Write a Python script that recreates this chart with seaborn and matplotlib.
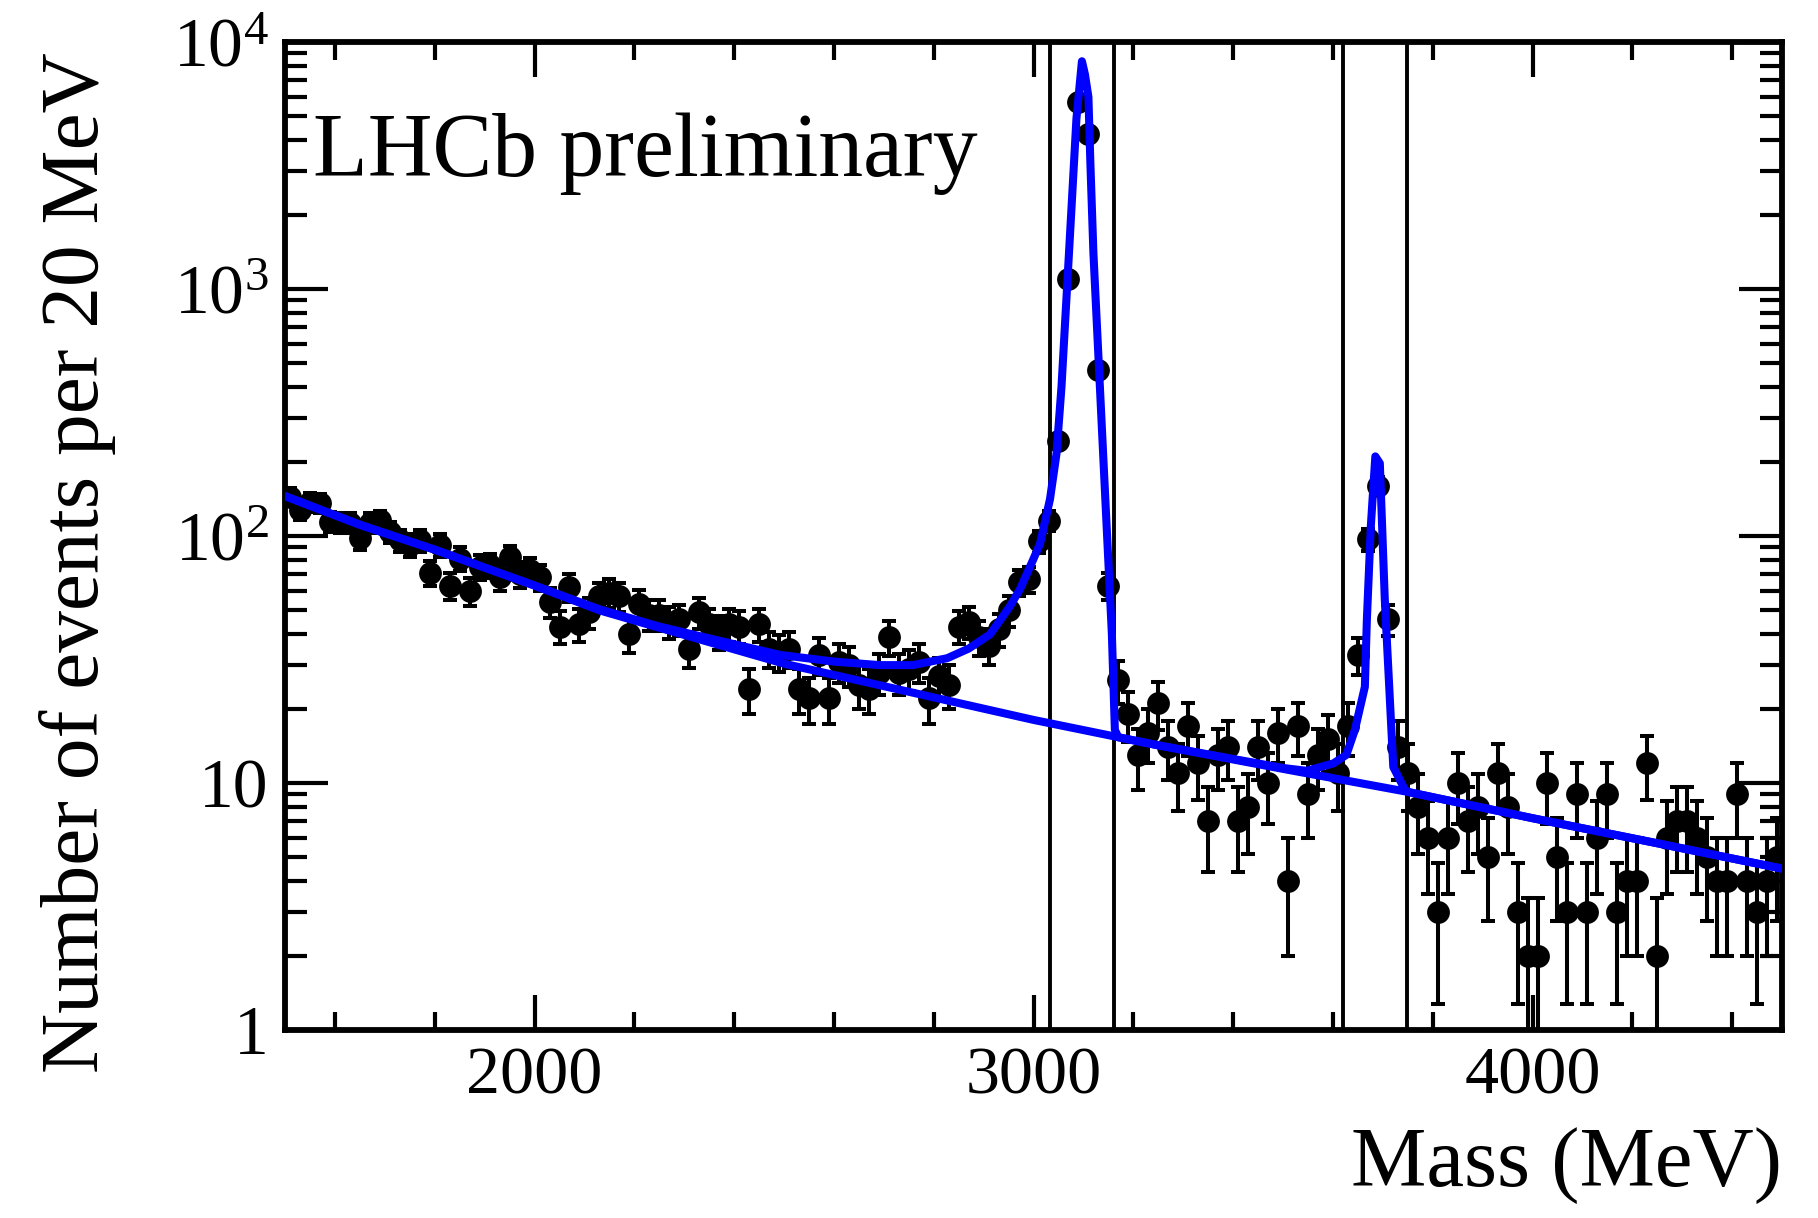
import numpy as np
import matplotlib
matplotlib.use("Agg")
import matplotlib.pyplot as plt
import seaborn as sns
from matplotlib.ticker import FixedLocator, FixedFormatter, MultipleLocator, LogLocator, NullFormatter

# ---------------- data ----------------
bin_start = 1500
bin_width = 20
counts = [
    144, 127, 137, 136, 114, 113, 113, 98, 113, 116,
    104, 96, 92, 96, 71, 92, 63, 81, 60, 75,
    76, 68, 82, 70, 73, 68, 54, 43, 62, 44,
    49, 57, 59, 57, 40, 53, 48, 48, 45, 46,
    35, 49, 44, 41, 44, 43, 24, 44, 35, 34,
    35, 24, 22, 33, 22, 31, 30, 25, 24, 28,
    39, 28, 29, 31, 22, 27, 25, 43, 45, 39,
    36, 42, 50, 65, 67, 95, 115, 243, 1100, 5700,
    4250, 470, 63, 26, 19, 13, 16, 21, 14, 11,
    17, 12, 7, 13, 14, 7, 8, 14, 10, 16,
    4, 17, 9, 13, 15, 11, 17, 33, 97, 160,
    46, 14, 11, 8, 6, 3, 6, 10, 7, 8,
    5, 11, 8, 3, 2, 2, 10, 5, 3, 9,
    3, 6, 9, 3, 4, 4, 12, 2, 6, 7,
    7, 6, 5, 4, 4, 9, 4, 3, 4, 5,
]

fit_mass = [1500, 1650, 1800, 2000, 2130, 2250, 2350, 2492, 2600, 2692, 2758, 2827,
            2870, 2913, 2953, 2973, 2999, 3013, 3033, 3046, 3056, 3066, 3076, 3086,
            3097, 3103, 3110, 3114, 3120, 3133, 3146, 3157, 3163, 3170, 3250, 3500,
            3547, 3601, 3627, 3644, 3664, 3668, 3676, 3685, 3694, 3704, 3721, 3744,
            3750, 4000, 4250, 4500]
fit_total = [145, 111, 88, 63, 50.5, 43, 38.5, 33, 31, 30, 30, 32,
             35, 40, 52, 61, 80, 93, 141, 215, 401, 920, 2115, 4900,
             8360, 7400, 5990, 3200, 1400, 401, 115, 40, 16.4, 15.3, 14.2, 11.5,
             11.2, 12.0, 13.0, 16.4, 24.5, 45.7, 110, 210, 197, 55, 11.6, 9.4,
             9.2, 7.2, 5.7, 4.5]

bkg_mass = [1500, 1650, 1800, 2000, 2130, 2250, 2500, 2750, 3000, 3250, 3500, 3750,
            4000, 4250, 4500]
bkg_vals = [145, 111, 88, 63, 50, 42.5, 30.4, 23.4, 18.0, 14.2, 11.4, 9.2,
            7.2, 5.7, 4.5]

window_lines = [3032, 3162, 3620, 3749]

x_ticks = [2000, 3000, 4000]
y_ticks = [1, 10, 100, 1000, 10000]
y_tick_labels = ["1", "10", "$10^{2}$", "$10^{3}$", "$10^{4}$"]

title_text = "LHCb preliminary"
x_label = "Mass (MeV)"
y_label = "Number of events per 20 MeV"

# ---------------- style ----------------
sns.set_theme(style="ticks")
plt.rcParams["font.family"] = ["Liberation Serif", "DejaVu Serif"]
plt.rcParams["mathtext.fontset"] = "custom"
plt.rcParams["mathtext.rm"] = "Liberation Serif"
plt.rcParams["mathtext.it"] = "Liberation Serif:italic"
plt.rcParams["mathtext.bf"] = "Liberation Serif:bold"
for key in ["text.color", "axes.labelcolor", "xtick.color", "ytick.color",
            "axes.edgecolor", "xtick.labelcolor", "ytick.labelcolor"]:
    plt.rcParams[key] = "black"

fig = plt.figure(figsize=(18.18, 12.18), dpi=100)
ax = fig.add_axes([0.1568, 0.1544, 0.8234, 0.8111])

mass = np.array([bin_start + bin_width * (i + 0.5) for i in range(len(counts))])
cnt = np.array(counts, dtype=float)
err = np.sqrt(cnt)

# vertical window lines
for xv in window_lines:
    ax.axvline(xv, color="black", lw=2.8, zorder=1)

# data points with Poisson errors
ax.errorbar(mass, cnt, yerr=err, fmt="none", ecolor="black", elinewidth=2.9,
            capsize=5.0, capthick=2.9, zorder=3)
sns.scatterplot(x=mass, y=cnt, ax=ax, color="black", s=270, edgecolor="black",
                linewidth=0, zorder=4, legend=False)

# fit curves
sns.lineplot(x=bkg_mass, y=bkg_vals, ax=ax, color="#0000ff", lw=5.8,
             sort=False, estimator=None, zorder=5, legend=False)
sns.lineplot(x=fit_mass, y=fit_total, ax=ax, color="#0000ff", lw=5.8,
             sort=False, estimator=None, zorder=5, legend=False)

ax.set_yscale("log")
ax.set_xlim(1500, 4500)
ax.set_ylim(1, 10000)

ax.xaxis.set_major_locator(FixedLocator(x_ticks))
ax.xaxis.set_minor_locator(MultipleLocator(200))
ax.yaxis.set_major_locator(FixedLocator(y_ticks))
ax.yaxis.set_major_formatter(FixedFormatter(y_tick_labels))
ax.yaxis.set_minor_locator(LogLocator(base=10, subs=np.arange(2, 10)))
ax.yaxis.set_minor_formatter(NullFormatter())

ax.tick_params(axis="both", which="both", direction="in", top=True, right=True,
               color="black", width=3.0)
ax.tick_params(axis="x", which="major", length=25, labelsize=49, pad=12)
ax.tick_params(axis="x", which="minor", length=13)
ax.tick_params(axis="y", which="major", length=31, labelsize=50, pad=12)
ax.tick_params(axis="y", which="minor", length=16)

for sp in ax.spines.values():
    sp.set_linewidth(4.2)
    sp.set_color("black")
    sp.set_visible(True)

ax.grid(False)
ax.set_facecolor("white")

ax.set_xlabel(x_label, fontsize=61, loc="right")
ax.xaxis.set_label_coords(1.0, -0.098)
ax.set_ylabel(y_label, fontsize=60, loc="top")
ax.yaxis.set_label_coords(-0.113, 0.99)

ax.text(0.0187, 0.864, title_text, transform=ax.transAxes, fontsize=64.5,
        ha="left", va="baseline", color="black")

fig.savefig("out.png", dpi=100, facecolor="white")
